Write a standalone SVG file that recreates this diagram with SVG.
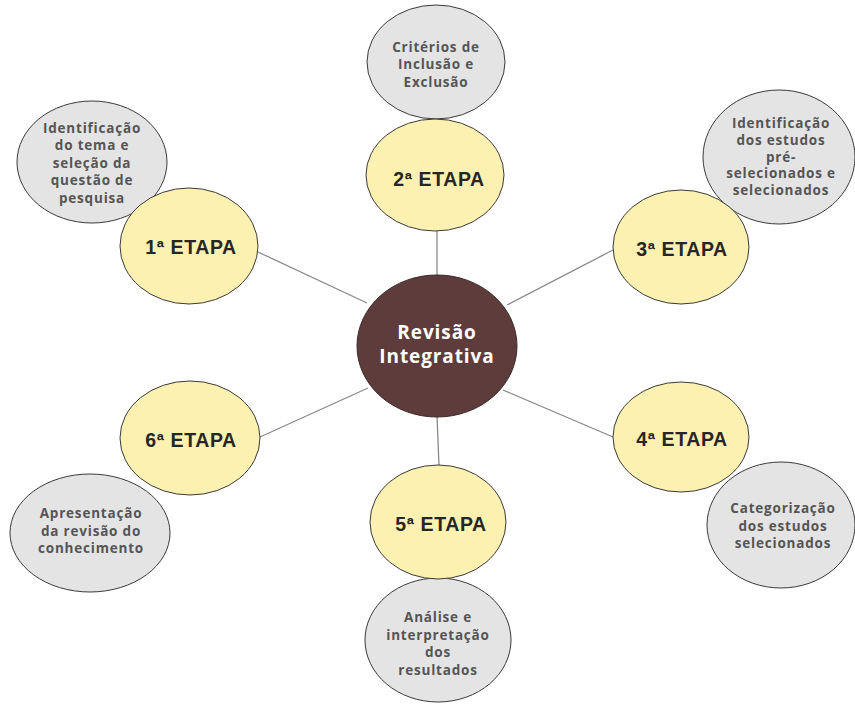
<svg xmlns="http://www.w3.org/2000/svg" width="855" height="706" viewBox="0 0 855 706">
<style>
.bg{fill:#ffffff}
.conn{stroke:#8a8a8a;stroke-width:1.3;fill:none}
.grey{fill:#e4e4e4;stroke:#3a3a3a;stroke-width:1}
.yel{fill:#fdf1b2;stroke:#3a3a3a;stroke-width:1}
.hub{fill:#5f3c3c;stroke:#3a2a2a;stroke-width:1}
.gt{font-family:"Open Sans","Noto Sans",sans-serif;font-weight:700;font-size:13.5px;letter-spacing:0.8px;fill:#555555;text-anchor:middle}
.yt{font-family:"Liberation Sans",Arial,sans-serif;font-weight:700;font-size:19.5px;letter-spacing:0.6px;fill:#262626;text-anchor:middle}
.ht{font-family:"Open Sans","Noto Sans",sans-serif;font-weight:700;font-size:19px;letter-spacing:0.9px;fill:#ffffff;text-anchor:middle}
</style>
<rect class="bg" x="0" y="0" width="855" height="706"/>
<g id="connectors">
<line class="conn" x1="258" y1="252" x2="367" y2="303"/>
<line class="conn" x1="437" y1="230" x2="437" y2="276"/>
<line class="conn" x1="507" y1="305" x2="613" y2="250"/>
<line class="conn" x1="503" y1="390" x2="613" y2="437"/>
<line class="conn" x1="437" y1="416" x2="439" y2="466"/>
<line class="conn" x1="260" y1="437" x2="368" y2="388"/>
</g>
<g id="hub">
<ellipse class="hub" cx="437" cy="346" rx="80" ry="71"/>
<text class="ht" x="437" y="339">Revisão</text>
<text class="ht" x="437" y="363">Integrativa</text>
</g>
<g id="desc1">
<ellipse class="grey" cx="92" cy="162" rx="75" ry="61"/>
<text class="gt" x="92" y="132.5">Identificação</text>
<text class="gt" x="92" y="150">do tema e</text>
<text class="gt" x="92" y="167.5">seleção da</text>
<text class="gt" x="92" y="185">questão de</text>
<text class="gt" x="92" y="202.5">pesquisa</text>
</g>
<g id="desc2">
<ellipse class="grey" cx="436" cy="62" rx="69" ry="57"/>
<text class="gt" x="436" y="51.5">Critérios de</text>
<text class="gt" x="436" y="69">Inclusão e</text>
<text class="gt" x="436" y="86.5">Exclusão</text>
</g>
<g id="desc3">
<ellipse class="grey" cx="779" cy="157" rx="76" ry="67"/>
<text class="gt" x="781" y="127.5">Identificação</text>
<text class="gt" x="781" y="144.5">dos estudos</text>
<text class="gt" x="781" y="161.5">pré-</text>
<text class="gt" x="781" y="178">selecionados e</text>
<text class="gt" x="781" y="194.5">selecionados</text>
</g>
<g id="desc4">
<ellipse class="grey" cx="781" cy="525" rx="74" ry="63"/>
<text class="gt" x="783" y="513">Categorização</text>
<text class="gt" x="783" y="530.5">dos estudos</text>
<text class="gt" x="783" y="548">selecionados</text>
</g>
<g id="desc5">
<ellipse class="grey" cx="438" cy="640" rx="73" ry="62"/>
<text class="gt" x="438" y="622">Análise e</text>
<text class="gt" x="438" y="639.5">interpretação</text>
<text class="gt" x="438" y="657">dos</text>
<text class="gt" x="438" y="674.5">resultados</text>
</g>
<g id="desc6">
<ellipse class="grey" cx="90" cy="533" rx="80" ry="59"/>
<text class="gt" x="91" y="518">Apresentação</text>
<text class="gt" x="91" y="535.5">da revisão do</text>
<text class="gt" x="91" y="553">conhecimento</text>
</g>
<g id="etapa1">
<ellipse class="yel" cx="189" cy="246" rx="69" ry="58"/>
<text class="yt" x="191" y="254">1ª ETAPA</text>
</g>
<g id="etapa2">
<ellipse class="yel" cx="435" cy="175" rx="69" ry="56"/>
<text class="yt" x="439" y="186">2ª ETAPA</text>
</g>
<g id="etapa3">
<ellipse class="yel" cx="681" cy="247" rx="68" ry="57"/>
<text class="yt" x="682" y="256">3ª ETAPA</text>
</g>
<g id="etapa4">
<ellipse class="yel" cx="681" cy="437" rx="68" ry="55"/>
<text class="yt" x="682" y="446">4ª ETAPA</text>
</g>
<g id="etapa5">
<ellipse class="yel" cx="438" cy="522" rx="68" ry="57"/>
<text class="yt" x="441" y="531">5ª ETAPA</text>
</g>
<g id="etapa6">
<ellipse class="yel" cx="190" cy="438" rx="70" ry="57"/>
<text class="yt" x="191" y="447">6ª ETAPA</text>
</g>
</svg>
